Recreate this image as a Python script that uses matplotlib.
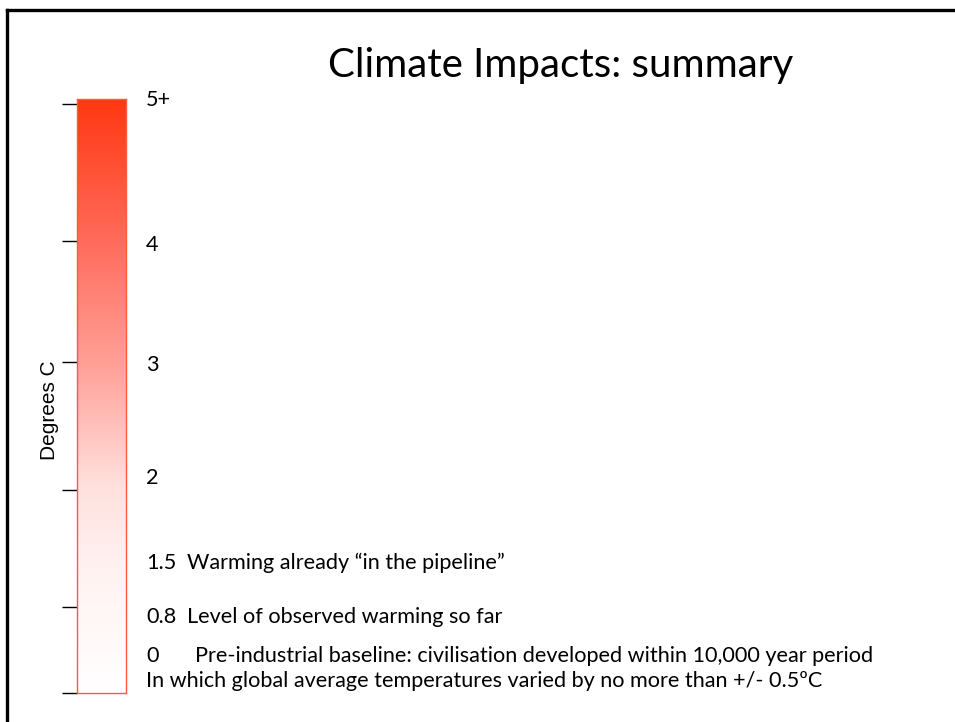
import numpy as np
import matplotlib
matplotlib.use("Agg")
import matplotlib.pyplot as plt
from matplotlib.colors import LinearSegmentedColormap
from matplotlib.lines import Line2D

W, H = 955, 722

title = "Climate Impacts: summary"
axis_label = "Degrees C"
levels = ["5+", "4", "3", "2", "1.5", "0.8", "0"]
level_notes = ["", "", "", "", "Warming already \u201cin the pipeline\u201d",
               "Level of observed warming so far",
               "Pre-industrial baseline: civilisation developed within 10,000 year period"]
footnote = "In which global average temperatures varied by no more than +/- 0.5\u00baC"

# tick marks along the left of the bar (fraction of bar height)
tick_fracs = [0.992, 0.761, 0.557, 0.342, 0.145, 0.0]

# text rows: (left x, centre y) in pixels
level_y = [100, 245, 365, 478, 563, 617, 656]
note_x = [None, None, None, None, 187, 187, 195]

def fx(x):
    return x / W

def fy(y):
    return 1 - y / H

fig = plt.figure(figsize=(W / 100, H / 100), dpi=100)
fig.patch.set_facecolor("white")

# slide frame: top and left edges
fig.add_artist(Line2D([fx(7), 1.0], [fy(10), fy(10)], color="black", lw=2.4,
                      transform=fig.transFigure))
fig.add_artist(Line2D([fx(7), fx(7)], [fy(10), 0.0], color="black", lw=2.4,
                      transform=fig.transFigure))

# gradient bar
bar_left, bar_right, bar_top, bar_bottom = 77, 126, 99, 693
ax = fig.add_axes([fx(bar_left), fy(bar_bottom),
                   (bar_right - bar_left) / W, (bar_bottom - bar_top) / H])
cmap = LinearSegmentedColormap.from_list(
    "heat", [(0.0, "#ffffff"), (0.2, "#fff3f2"), (0.35, "#ffe0dd"),
             (0.55, "#ffa198"), (0.76, "#ff6c5c"), (1.0, "#ff3812")])
grad = np.linspace(0, 1, 256).reshape(-1, 1)
ax.imshow(grad, aspect="auto", cmap=cmap, origin="lower",
          extent=[0, 1, 0, 1], interpolation="bilinear")
ax.set_xlim(0, 1)
ax.set_ylim(0, 1)
for s in ax.spines.values():
    s.set_color("#ff5a3c")
    s.set_linewidth(1.0)
ax.set_xticks([])
ax.set_yticks(tick_fracs)
ax.set_yticklabels([])
ax.tick_params(axis="y", length=11, width=1.0, color="black", pad=2, direction="out")
ax.set_ylabel(axis_label, fontsize=15, family="Liberation Sans")
ax.yaxis.set_label_coords((59 - bar_left) / (bar_right - bar_left),
                          (bar_bottom - 410) / (bar_bottom - bar_top))

# title
fig.text(fx(561), fy(66), title, ha="center", va="center",
         fontsize=29, family="Lato", color="black")

# level labels and notes
fs = 15.6
for lab, note, y, nx in zip(levels, level_notes, level_y, note_x):
    fig.text(fx(146), fy(y), lab, ha="left", va="center", fontsize=fs,
             family="Lato", color="black")
    if note:
        fig.text(fx(nx), fy(y), note, ha="left", va="center", fontsize=fs,
                 family="Lato", color="black")

fig.text(fx(146), fy(681), footnote, ha="left", va="center", fontsize=fs,
         family="Lato", color="black")

fig.savefig("out.png", dpi=100, facecolor="white")
